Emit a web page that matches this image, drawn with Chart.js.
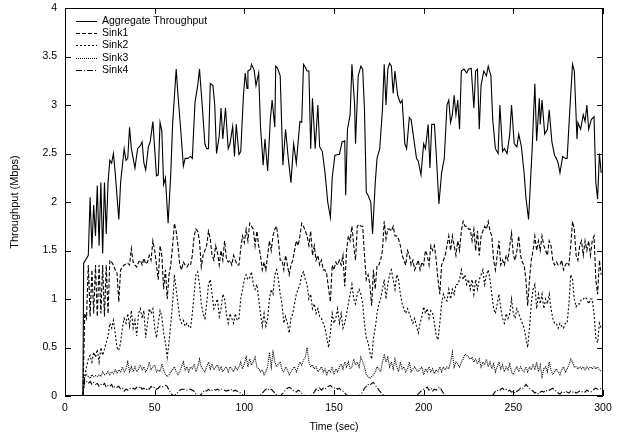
<!DOCTYPE html>
<html>
<head>
<meta charset="utf-8">
<script src="https://cdn.jsdelivr.net/npm/chart.js@4"></script>
<style>
  html, body { margin: 0; padding: 0; background: #fff; }
  #wrap { width: 617px; height: 437px; }
</style>
</head>
<body>
<div id="wrap"><canvas id="throughput-chart" width="617" height="437"></canvas></div>
<script>
const seriesLabels = ['Aggregate Throughput', 'Sink1', 'Sink2', 'Sink3', 'Sink4']
const xTicks = [0, 50, 100, 150, 200, 250, 300]
const yTicks = [0, 0.5, 1, 1.5, 2, 2.5, 3, 3.5, 4]

// aggregate throughput, [time, Mbps]
const aggregate = [
  [10, 0], [10.4, 1.37], [13, 1.45], [14, 2.05], [15, 1.52], [16, 1.97], [17, 1.65], [18, 2.17], [19, 1.55], [20, 2.2],
  [21, 1.47], [22, 2.2], [23, 1.67], [24, 2.2], [25, 2.43], [26, 2.4], [27, 2.5], [28, 2.3], [30, 1.82], [31, 2.2],
  [33, 2.55], [34, 2.43], [35, 2.45], [36, 2.77], [37, 2.55], [38, 2.45], [39, 2.35], [40.5, 2.55], [42, 2.58], [43, 2.62],
  [44, 2.4], [45, 2.33], [46.5, 2.57], [47.5, 2.62], [49, 2.83], [50, 2.55], [51, 2.27], [52, 2.28], [53, 2.82], [54, 2.73],
  [55, 2.18], [56, 2.25], [57.5, 1.78], [59, 2.3], [60, 2.8], [62, 3.37], [63, 3.1], [64.5, 2.75], [66, 2.37], [67, 2.45],
  [68.5, 2.45], [70, 2.47], [71, 2.45], [72.5, 3.03], [74, 3.2], [75, 3.37], [76.5, 3.0], [78, 2.6], [79, 2.55], [80, 2.55],
  [81, 3.22], [82.5, 3.2], [83.5, 3.0], [84.5, 2.5], [86, 2.68], [87, 2.97], [88, 2.65], [89.5, 2.97], [91, 2.55], [92, 2.6],
  [93.5, 2.78], [94.5, 2.47], [95.5, 2.8], [97, 2.49], [98, 2.52], [99.5, 3.1], [100.5, 3.33], [101.5, 3.17], [102, 3.35], [103.5, 3.37],
  [104, 3.42], [105.5, 3.36], [106.5, 3.2], [108, 3.33], [109, 2.78], [110.5, 2.38], [111.5, 2.65], [113, 2.32], [114.5, 2.85], [115.5, 3.05],
  [117, 2.77], [117.5, 3.4], [118.5, 3.38], [120, 3.3], [121.5, 2.38], [123, 2.75], [124.5, 2.45], [126, 2.2], [127.5, 2.6], [129, 2.4],
  [130, 2.62], [131, 2.83], [132, 2.82], [133, 3.42], [134, 3.39], [135, 3.35], [136, 3.35], [137, 2.55], [138, 3.07], [139.5, 2.55],
  [141, 3.0], [142, 2.57], [143.5, 2.52], [145, 2.3], [146.5, 2.0], [148, 1.84], [149, 2.25], [150.5, 2.48], [152, 2.49], [153, 2.49],
  [154.5, 2.62], [156, 2.63], [156.5, 2.07], [157.5, 2.75], [159, 2.9], [160, 3.42], [161.5, 3.0], [162, 2.6], [163.5, 3.3], [165, 3.4],
  [166, 3.37], [167, 2.95], [168, 2.1], [169, 2.07], [170.5, 2.0], [171.5, 1.67], [173, 2.2], [174, 2.45], [175.5, 2.55], [177, 2.95],
  [178, 3.42], [179, 3.0], [180, 3.37], [181, 3.43], [182, 3.4], [183, 3.12], [184, 3.35], [185.5, 3.1], [187, 3.02], [188, 3.05],
  [189.5, 2.6], [190.5, 2.55], [192, 2.87], [193, 2.85], [194.5, 2.65], [196, 2.45], [197, 2.42], [198.5, 2.28], [200, 2.6], [201, 2.55],
  [202.5, 2.8], [203.5, 2.35], [204.5, 2.8], [206, 2.8], [207, 2.5], [208.5, 1.98], [210, 2.3], [211.5, 2.45], [213, 3.0], [214, 3.05],
  [215, 2.82], [216, 2.9], [217, 3.1], [218, 2.9], [219, 3.05], [220, 2.75], [221, 3.35], [222.5, 3.37], [224, 3.33], [225, 3.37],
  [226.5, 3.38], [228, 2.97], [229, 3.35], [230, 3.37], [231, 2.75], [232, 3.2], [233.5, 3.35], [235, 3.3], [236, 3.4], [237.5, 3.3],
  [238.5, 2.85], [240, 2.55], [241.5, 2.5], [242.5, 3.0], [244, 2.52], [245, 2.55], [246.5, 2.5], [248, 2.7], [249, 3.0], [250.5, 2.6],
  [252, 2.57], [253, 2.7], [254.5, 2.57], [256, 2.3], [257, 2.05], [258.5, 1.82], [260.5, 2.55], [262, 3.22], [263, 2.63], [264.5, 3.07],
  [265, 2.8], [266, 3.05], [267.5, 2.7], [269, 2.75], [270, 2.95], [271.5, 2.62], [273, 2.48], [274, 2.45], [275, 2.4], [276, 2.3],
  [277.5, 2.47], [279, 2.45], [280, 2.45], [281.5, 2.95], [283, 3.42], [284, 3.35], [285.5, 2.65], [286, 2.82], [287.5, 2.75], [289, 2.9],
  [290, 2.83], [291, 3.0], [292, 2.75], [293.5, 2.85], [295, 2.88], [296, 2.2], [297, 2.03], [298, 2.5], [299, 2.3]
]

// per-sink samples, one per second
const sinkTimes = [
  10, 11, 12, 13, 14, 15, 16, 17, 18, 19, 20, 21, 22, 23, 24, 25, 26, 27, 28, 29,
  30, 31, 32, 33, 34, 35, 36, 37, 38, 39, 40, 41, 42, 43, 44, 45, 46, 47, 48, 49,
  50, 51, 52, 53, 54, 55, 56, 57, 58, 59, 60, 61, 62, 63, 64, 65, 66, 67, 68, 69,
  70, 71, 72, 73, 74, 75, 76, 77, 78, 79, 80, 81, 82, 83, 84, 85, 86, 87, 88, 89,
  90, 91, 92, 93, 94, 95, 96, 97, 98, 99, 100, 101, 102, 103, 104, 105, 106, 107, 108, 109,
  110, 111, 112, 113, 114, 115, 116, 117, 118, 119, 120, 121, 122, 123, 124, 125, 126, 127, 128, 129,
  130, 131, 132, 133, 134, 135, 136, 137, 138, 139, 140, 141, 142, 143, 144, 145, 146, 147, 148, 149,
  150, 151, 152, 153, 154, 155, 156, 157, 158, 159, 160, 161, 162, 163, 164, 165, 166, 167, 168, 169,
  170, 171, 172, 173, 174, 175, 176, 177, 178, 179, 180, 181, 182, 183, 184, 185, 186, 187, 188, 189,
  190, 191, 192, 193, 194, 195, 196, 197, 198, 199, 200, 201, 202, 203, 204, 205, 206, 207, 208, 209,
  210, 211, 212, 213, 214, 215, 216, 217, 218, 219, 220, 221, 222, 223, 224, 225, 226, 227, 228, 229,
  230, 231, 232, 233, 234, 235, 236, 237, 238, 239, 240, 241, 242, 243, 244, 245, 246, 247, 248, 249,
  250, 251, 252, 253, 254, 255, 256, 257, 258, 259, 260, 261, 262, 263, 264, 265, 266, 267, 268, 269,
  270, 271, 272, 273, 274, 275, 276, 277, 278, 279, 280, 281, 282, 283, 284, 285, 286, 287, 288, 289,
  290, 291, 292, 293, 294, 295, 296, 297, 298, 299
]

const sink1 = [
  0, 0.85, 0.8, 1.35, 0.82, 1.3, 0.85, 1.35, 0.82, 1.35,
  0.85, 1.35, 0.82, 1.35, 0.85, 1.4, 1.38, 1.35, 1.3, 1.27,
  0.97, 1.3, 1.33, 1.35, 1.36, 1.37, 1.35, 1.52, 1.38, 1.35,
  1.33, 1.38, 1.4, 1.35, 1.42, 1.36, 1.38, 1.45, 1.4, 1.6,
  1.5, 1.35, 1.2, 1.55, 1.45, 1.1, 1.3, 1.0, 1.25, 1.35,
  1.55, 1.78, 1.7, 1.55, 1.35, 1.3, 1.38, 1.35, 1.33, 1.36,
  1.35, 1.45, 1.65, 1.72, 1.7, 1.6, 1.33, 1.45, 1.5, 1.55,
  1.7, 1.62, 1.45, 1.4, 1.55, 1.48, 1.35, 1.5, 1.4, 1.6,
  1.42, 1.38, 1.4, 1.35, 1.45, 1.4, 1.35, 1.35, 1.52, 1.65,
  1.58, 1.72, 1.6, 1.78, 1.75, 1.72, 1.55, 1.7, 1.55, 1.45,
  1.3, 1.38, 1.3, 1.45, 1.6, 1.5, 1.65, 1.72, 1.75, 1.6,
  1.4, 1.4, 1.3, 1.45, 1.35, 1.25, 1.35, 1.4, 1.5, 1.6,
  1.55, 1.65, 1.78, 1.75, 1.7, 1.65, 1.55, 1.7, 1.45, 1.55,
  1.4, 1.45, 1.35, 1.4, 1.3, 1.3, 1.25, 1.1, 0.97, 1.35,
  1.3, 1.38, 1.35, 1.4, 1.35, 1.45, 1.13, 1.5, 1.65, 1.6,
  1.75, 1.55, 1.4, 1.75, 1.77, 1.75, 1.75, 1.45, 1.2, 1.25,
  1.15, 0.93, 1.3, 1.1, 1.35, 1.35, 1.4, 1.5, 1.8, 1.62,
  1.72, 1.72, 1.7, 1.75, 1.65, 1.65, 1.62, 1.55, 1.45, 1.4,
  1.35, 1.5, 1.45, 1.35, 1.4, 1.3, 1.35, 1.4, 1.3, 1.38,
  1.35, 1.5, 1.45, 1.35, 1.55, 1.5, 1.55, 1.4, 1.2, 1.05,
  1.35, 1.4, 1.45, 1.55, 1.65, 1.5, 1.65, 1.55, 1.45, 1.6,
  1.5, 1.7, 1.8, 1.75, 1.75, 1.72, 1.72, 1.6, 1.72, 1.5,
  1.7, 1.45, 1.65, 1.7, 1.75, 1.72, 1.8, 1.7, 1.65, 1.4,
  1.3, 1.45, 1.6, 1.35, 1.4, 1.35, 1.45, 1.4, 1.55, 1.68,
  1.45, 1.4, 1.5, 1.65, 1.45, 1.38, 1.35, 1.2, 0.93, 1.2,
  1.4, 1.5, 1.65, 1.5, 1.6, 1.5, 1.65, 1.55, 1.5, 1.45,
  1.6, 1.55, 1.4, 1.35, 1.38, 1.35, 1.35, 1.4, 1.3, 1.35,
  1.38, 1.35, 1.55, 1.8, 1.72, 1.45, 1.4, 1.55, 1.6, 1.45,
  1.6, 1.5, 1.6, 1.45, 1.6, 1.65, 1.2, 1.05, 1.4, 1.25
]

const sink2 = [
  0, 0.2, 0.3, 0.38, 0.42, 0.35, 0.45, 0.4, 0.48, 0.35,
  0.5, 0.42, 0.48, 0.55, 0.62, 0.75, 0.7, 0.78, 0.65, 0.5,
  0.47, 0.55, 0.7, 0.8, 0.75, 0.85, 0.72, 0.88, 0.7, 0.78,
  0.62, 0.85, 0.9, 0.8, 0.88, 0.6, 0.75, 0.9, 0.85, 0.9,
  0.7, 0.6, 0.75, 0.88, 0.82, 0.65, 0.55, 0.4, 0.55, 0.75,
  0.95, 1.25, 1.1, 0.95, 0.8, 0.75, 0.78, 0.72, 0.75, 0.72,
  0.7, 0.85, 1.05, 1.25, 1.28, 1.15, 0.95, 0.85, 0.8, 0.95,
  1.15, 1.2, 1.05, 0.9, 0.95, 1.0, 0.82, 0.9, 1.05, 1.0,
  0.85, 0.75, 0.85, 0.8, 0.75, 0.85, 0.78, 0.8, 1.0, 1.1,
  1.2, 1.25, 1.2, 1.22, 1.28, 1.15, 1.1, 1.15, 1.0, 0.85,
  0.72, 0.85, 0.72, 0.8, 1.0, 1.1, 1.05, 1.25, 1.3, 1.2,
  1.05, 0.95, 0.75, 0.82, 0.75, 0.65, 0.8, 0.85, 0.95, 1.05,
  1.1, 1.15, 1.25, 1.28, 1.2, 1.15, 1.0, 1.05, 0.9, 0.95,
  0.85, 0.9, 0.82, 0.8, 0.75, 0.7, 0.6, 0.5, 0.65, 0.85,
  0.75, 0.8, 0.9, 0.75, 0.85, 0.7, 0.75, 0.85, 0.95, 1.05,
  1.15, 1.0, 0.95, 1.05, 1.1, 1.05, 0.95, 0.75, 0.6, 0.55,
  0.45, 0.38, 0.6, 0.7, 0.85, 0.95, 1.0, 1.1, 1.2, 1.0,
  1.15, 1.25, 1.3, 1.2, 1.1, 1.25, 1.2, 1.05, 0.95, 0.9,
  0.85, 0.9, 0.85, 0.8, 0.75, 0.8, 0.72, 0.65, 0.75, 0.82,
  0.92, 0.85, 0.9, 0.8, 0.88, 0.85, 0.75, 0.62, 0.58, 0.75,
  0.95, 1.05, 1.0, 0.98, 1.1, 1.0, 1.1, 1.05, 1.15, 1.15,
  1.2, 1.3, 1.2, 1.25, 1.15, 1.2, 1.1, 1.2, 1.05, 1.2,
  1.1, 1.2, 1.25, 1.3, 1.15, 1.25, 1.3, 1.2, 1.05, 0.9,
  0.85, 0.95, 1.05, 0.9, 0.8, 0.75, 0.85, 0.8, 0.85, 1.0,
  0.85, 0.8, 0.9, 0.85, 0.8, 0.75, 0.7, 0.6, 0.5, 0.7,
  0.95, 1.1, 1.15, 0.9, 1.05, 0.95, 1.05, 0.9, 1.0, 0.95,
  1.05, 0.9, 0.8, 0.75, 0.75, 0.7, 0.75, 0.72, 0.7, 0.75,
  0.75, 0.95, 1.25, 1.2, 1.0, 0.92, 0.95, 0.95, 1.0, 1.0,
  1.02, 1.0, 0.95, 1.0, 1.0, 0.85, 0.6, 0.55, 0.75, 0.7
]

const sink3 = [
  0, 0.2, 0.22, 0.2, 0.18, 0.22, 0.2, 0.21, 0.2, 0.22,
  0.2, 0.25, 0.22, 0.23, 0.25, 0.22, 0.25, 0.23, 0.27, 0.24,
  0.27, 0.25, 0.3, 0.25, 0.28, 0.35, 0.25, 0.3, 0.25, 0.3,
  0.25, 0.28, 0.32, 0.27, 0.3, 0.25, 0.28, 0.35, 0.27, 0.3,
  0.32, 0.25, 0.27, 0.25, 0.33, 0.27, 0.22, 0.2, 0.22, 0.25,
  0.27, 0.3, 0.25, 0.22, 0.25, 0.3, 0.35, 0.27, 0.3, 0.25,
  0.3, 0.28, 0.33, 0.25, 0.3, 0.38, 0.3, 0.27, 0.25, 0.3,
  0.35, 0.28, 0.33, 0.27, 0.3, 0.32, 0.27, 0.3, 0.25, 0.28,
  0.3, 0.25, 0.3, 0.28, 0.25, 0.3, 0.27, 0.3, 0.35, 0.28,
  0.33, 0.4, 0.3, 0.38, 0.32, 0.35, 0.4, 0.3, 0.28, 0.25,
  0.27, 0.22, 0.25, 0.3, 0.45, 0.3, 0.45, 0.35, 0.3, 0.33,
  0.35, 0.27, 0.25, 0.3, 0.27, 0.22, 0.25, 0.28, 0.3, 0.25,
  0.3, 0.35, 0.32, 0.37, 0.4, 0.5, 0.35, 0.3, 0.32, 0.28,
  0.3, 0.25, 0.27, 0.3, 0.25, 0.28, 0.22, 0.27, 0.25, 0.3,
  0.22, 0.28, 0.25, 0.3, 0.33, 0.28, 0.35, 0.3, 0.35, 0.28,
  0.3, 0.38, 0.32, 0.35, 0.3, 0.4, 0.35, 0.3, 0.22, 0.2,
  0.18, 0.2, 0.22, 0.25, 0.3, 0.28, 0.25, 0.35, 0.42, 0.35,
  0.4, 0.3, 0.35, 0.28, 0.38, 0.3, 0.25, 0.35, 0.28, 0.3,
  0.25, 0.28, 0.35, 0.25, 0.28, 0.3, 0.27, 0.25, 0.28, 0.3,
  0.22, 0.28, 0.25, 0.3, 0.25, 0.28, 0.23, 0.27, 0.25, 0.3,
  0.25, 0.3, 0.27, 0.3, 0.28, 0.35, 0.45, 0.3, 0.35, 0.33,
  0.3, 0.35, 0.38, 0.43, 0.42, 0.4, 0.38, 0.4, 0.35, 0.38,
  0.33, 0.38, 0.3, 0.35, 0.32, 0.38, 0.3, 0.35, 0.28, 0.33,
  0.25, 0.3, 0.35, 0.28, 0.32, 0.25, 0.3, 0.27, 0.33, 0.25,
  0.22, 0.27, 0.3, 0.25, 0.3, 0.27, 0.25, 0.3, 0.25, 0.3,
  0.27, 0.33, 0.27, 0.35, 0.25, 0.32, 0.2, 0.28, 0.3, 0.25,
  0.35, 0.27, 0.22, 0.25, 0.28, 0.25, 0.22, 0.27, 0.3, 0.25,
  0.28, 0.32, 0.38, 0.35, 0.3, 0.3, 0.28, 0.3, 0.28, 0.3,
  0.27, 0.3, 0.28, 0.3, 0.28, 0.3, 0.28, 0.3, 0.27, 0.25
]

const sink4 = [
  0, 0.17, 0.15, 0.13, 0.15, 0.12, 0.14, 0.12, 0.13, 0.1,
  0.12, 0.11, 0.13, 0.09, 0.11, 0.1, 0.12, 0.08, 0.1, 0.09,
  0.1, 0.07, 0.08, 0.05, 0.07, 0.06, 0.08, 0.07, 0.08, 0.07,
  0.09, 0.08, 0.1, 0.07, 0.08, 0.06, 0.08, 0.07, 0.1, 0.08,
  0.09, 0.07, 0.08, 0.1, 0.09, 0.1, 0.11, 0.1, 0.06, 0.03,
  0.01, 0, 0.02, 0.04, 0.06, 0.07, 0.07, 0.07, 0.06, 0.07,
  0.07, 0.06, 0.05, 0.02, 0, 0, 0.02, 0.04, 0.06, 0.05,
  0.07, 0.05, 0.06, 0.07, 0.06, 0.07, 0.06, 0.07, 0.07, 0.06,
  0.05, 0.06, 0.05, 0.07, 0.05, 0.06, 0.05, 0.04, 0.03, 0.01,
  0, 0, 0, 0, 0, 0, 0, 0, 0, 0.01,
  0.03, 0.05, 0.07, 0.08, 0.06, 0.07, 0.05, 0.03, 0.01, 0,
  0, 0.02, 0.04, 0.06, 0.08, 0.09, 0.08, 0.06, 0.05, 0.04,
  0.06, 0.05, 0.03, 0.01, 0, 0, 0, 0, 0.02, 0.04,
  0.07, 0.05, 0.08, 0.06, 0.08, 0.07, 0.09, 0.1, 0.11, 0.09,
  0.08, 0.09, 0.07, 0.08, 0.06, 0.05, 0.03, 0.01, 0, 0,
  0, 0, 0, 0, 0, 0.02, 0.04, 0.08, 0.1, 0.12,
  0.11, 0.13, 0.14, 0.11, 0.09, 0.06, 0.04, 0.02, 0, 0,
  0, 0, 0, 0, 0, 0, 0, 0, 0, 0,
  0, 0, 0, 0, 0, 0, 0, 0.02, 0.04, 0.06,
  0.07, 0.08, 0.09, 0.06, 0.08, 0.05, 0.07, 0.06, 0.08, 0.09,
  0.06, 0.03, 0.01, 0, 0, 0, 0, 0, 0, 0,
  0, 0, 0, 0, 0, 0, 0, 0, 0, 0,
  0, 0, 0, 0, 0, 0, 0, 0, 0, 0.02,
  0.05, 0.06, 0.05, 0.07, 0.08, 0.06, 0.07, 0.05, 0.06, 0.04,
  0.05, 0.03, 0.05, 0.06, 0.08, 0.07, 0.09, 0.12, 0.1, 0.08,
  0.06, 0.05, 0.03, 0.04, 0.02, 0.04, 0.05, 0.04, 0.06, 0.05,
  0.06, 0.07, 0.08, 0.06, 0.05, 0.03, 0.02, 0.04, 0.03, 0.05,
  0.04, 0.03, 0.05, 0.04, 0.05, 0.03, 0.04, 0.05, 0.04, 0.05,
  0.04, 0.06, 0.05, 0.04, 0.05, 0.07, 0.08, 0.07, 0.08, 0.07
]

const dashes = [[], [4, 2], [2, 2], [1, 1], [6, 2, 1, 2]]
const fontFamily = "'Liberation Sans', Arial, Helvetica, sans-serif"
const smallFont = { family: fontFamily, size: 10.5 }
const titleFont = { family: fontFamily, size: 11 }

const toPoints = (times, values) => values.map((v, i) => ({ x: times[i], y: v }))

const lineSet = (label, points, dash) => ({
  label: label,
  data: points,
  borderColor: '#000',
  borderWidth: 1.1,
  borderDash: dash,
  pointRadius: 0,
  tension: 0,
  fill: false
})

// gnuplot style frame with inward ticks + key in the upper left
const framePlugin = {
  id: 'frame',
  afterDraw(chart) {
    const ctx = chart.ctx
    const area = chart.chartArea
    const xs = chart.scales.x
    const ys = chart.scales.y
    const tl = 6
    ctx.save()
    ctx.strokeStyle = '#000'
    ctx.lineWidth = 1
    ctx.setLineDash([])
    ctx.beginPath()
    ctx.rect(area.left + 0.5, area.top + 0.5, area.right - area.left - 1, area.bottom - area.top - 1)
    xTicks.forEach(v => {
      const px = Math.round(xs.getPixelForValue(v)) + 0.5
      ctx.moveTo(px, area.bottom); ctx.lineTo(px, area.bottom - tl)
      ctx.moveTo(px, area.top); ctx.lineTo(px, area.top + tl)
    })
    yTicks.forEach(v => {
      const py = Math.round(ys.getPixelForValue(v)) + 0.5
      ctx.moveTo(area.left, py); ctx.lineTo(area.left + tl, py)
      ctx.moveTo(area.right, py); ctx.lineTo(area.right - tl, py)
    })
    ctx.stroke()

    // key
    ctx.font = smallFont.size + 'px ' + fontFamily
    ctx.fillStyle = '#000'
    ctx.textBaseline = 'middle'
    chart.data.datasets.forEach((ds, i) => {
      const y = Math.round(area.top + 13 + i * 12.2) + 0.5
      ctx.setLineDash(ds.borderDash)
      ctx.beginPath()
      ctx.moveTo(area.left + 11, y)
      ctx.lineTo(area.left + 32, y)
      ctx.stroke()
      ctx.fillText(ds.label, area.left + 37, y)
    })
    ctx.restore()
  }
}

const config = {
  type: 'line',
  data: {
    datasets: [
      lineSet(seriesLabels[0], aggregate.map(p => ({ x: p[0], y: p[1] })), dashes[0]),
      lineSet(seriesLabels[1], toPoints(sinkTimes, sink1), dashes[1]),
      lineSet(seriesLabels[2], toPoints(sinkTimes, sink2), dashes[2]),
      lineSet(seriesLabels[3], toPoints(sinkTimes, sink3), dashes[3]),
      lineSet(seriesLabels[4], toPoints(sinkTimes, sink4), dashes[4])
    ]
  },
  options: {
    responsive: false,
    animation: false,
    devicePixelRatio: 1,
    layout: { padding: { left: 0, top: 8, right: 14, bottom: 0 } },
    plugins: {
      legend: { display: false },
      tooltip: { enabled: false }
    },
    scales: {
      x: {
        type: 'linear',
        min: 0,
        max: 300,
        afterBuildTicks: scale => { scale.ticks = xTicks.map(v => ({ value: v })) },
        afterFit: scale => { scale.height = 41; scale.paddingLeft = 0; scale.paddingRight = 0 },
        grid: { display: false, drawTicks: false },
        border: { display: false },
        ticks: { color: '#000', padding: 6, maxRotation: 0, font: smallFont },
        title: { display: true, text: 'Time (sec)', color: '#000', padding: { top: 0, bottom: 4 }, font: smallFont }
      },
      y: {
        type: 'linear',
        min: 0,
        max: 4,
        afterBuildTicks: scale => { scale.ticks = yTicks.map(v => ({ value: v })) },
        afterFit: scale => { scale.width = 65; scale.paddingTop = 0; scale.paddingBottom = 0 },
        grid: { display: false, drawTicks: false },
        border: { display: false },
        ticks: { color: '#000', padding: 8, callback: v => String(v), font: smallFont },
        title: { display: true, text: 'Throughput (Mbps)', color: '#000', padding: { top: 8, bottom: 0 }, font: titleFont }
      }
    }
  },
  plugins: [framePlugin]
}

const myChart = new Chart(document.getElementById('throughput-chart'), config)
</script>
</body>
</html>
